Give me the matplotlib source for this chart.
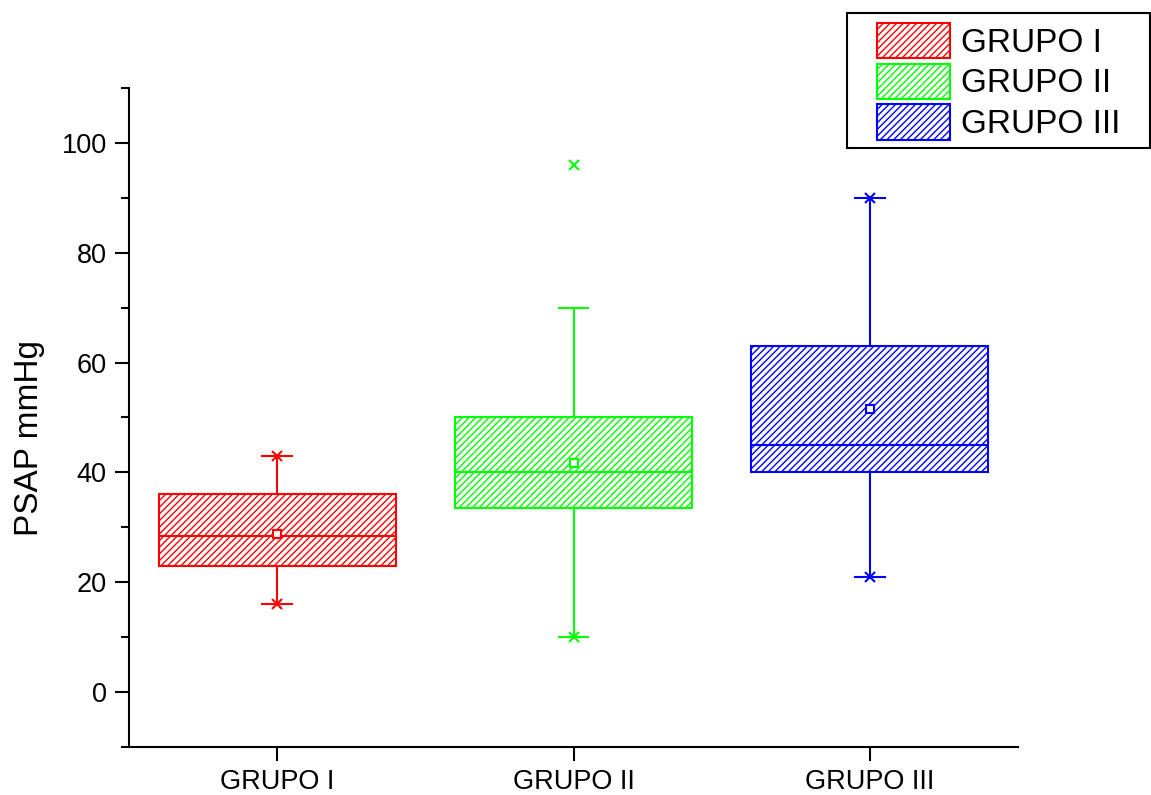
import matplotlib
matplotlib.use('Agg')
import matplotlib.pyplot as plt
from matplotlib.patches import Patch, Rectangle
from matplotlib.ticker import MultipleLocator

plt.rcParams['font.family'] = ['Liberation Sans', 'DejaVu Sans']
plt.rcParams['hatch.linewidth'] = 1.0

labels = ['GRUPO I', 'GRUPO II', 'GRUPO III']
colors = ['#FF0000', '#00FF00', '#0000FF']
q1 = [23, 33.5, 40]
medians = [28.5, 40, 45]
q3 = [36, 50, 63]
whisker_lo = [16, 10, 21]
whisker_hi = [43, 70, 90]
means = [28.7, 41.8, 51.6]
data_min = [16, 10, 21]
data_max = [43, 96, 90]

fig = plt.figure(figsize=(11.51, 7.95), dpi=100)
ax = fig.add_axes([0.1121, 0.0604, 0.7724, 0.8289])

positions = [1, 2, 3]
for i in range(3):
    c = colors[i]
    stats = [{'label': labels[i], 'q1': q1[i], 'med': medians[i], 'q3': q3[i],
              'whislo': whisker_lo[i], 'whishi': whisker_hi[i],
              'mean': means[i], 'fliers': []}]
    bp = ax.bxp(stats, positions=[positions[i]], widths=0.8, capwidths=0.1,
                patch_artist=True, showmeans=True,
                boxprops=dict(facecolor='white', edgecolor=c, linewidth=1.5),
                medianprops=dict(color=c, linewidth=1.5),
                whiskerprops=dict(color=c, linewidth=1.5),
                capprops=dict(color=c, linewidth=1.5),
                meanprops=dict(marker='s', markersize=6, markerfacecolor='white',
                               markeredgecolor=c, markeredgewidth=1.5))
    for b in bp['boxes']:
        b.set_hatch('/////')
        b.set_edgecolor(c)
    # x marks at min and max values
    ax.plot([positions[i]] * 2, [data_min[i], data_max[i]], linestyle='none',
            marker='x', markersize=7, markeredgewidth=1.5, color=c)

ax.set_xlim(0.5, 3.5)
ax.set_ylim(-10, 110)
ax.set_xticks(positions)
ax.set_xticklabels(labels)
ax.yaxis.set_major_locator(MultipleLocator(20))
ax.yaxis.set_minor_locator(MultipleLocator(10))
ax.tick_params(axis='both', which='major', direction='out', length=10, width=1.5,
               labelsize=19.5, pad=6)
ax.tick_params(axis='y', which='minor', direction='out', length=6, width=1.5)
ax.spines['top'].set_visible(False)
ax.spines['right'].set_visible(False)
ax.spines['left'].set_linewidth(1.5)
ax.spines['bottom'].set_linewidth(1.5)
ax.set_ylabel('PSAP mmHg', fontsize=24)
ax.yaxis.set_label_coords(-0.0945, 0.469)

handles = [Patch(facecolor='white', edgecolor=c, hatch='/////', linewidth=1.5)
           for c in colors]
fig.legend(handles, labels, loc='upper left', bbox_to_anchor=(877 / 1151, 1 - 23 / 795),
           bbox_transform=fig.transFigure, frameon=False, fontsize=24,
           handlelength=2.2, handleheight=1.24, handletextpad=0.33,
           labelspacing=0.15, borderpad=0, borderaxespad=0)
fig.patches.append(Rectangle((847 / 1151, 1 - 148 / 795), 303 / 1151, 135 / 795,
                             transform=fig.transFigure, fill=False,
                             edgecolor='black', linewidth=1.5))

fig.savefig('out.png', dpi=100)
